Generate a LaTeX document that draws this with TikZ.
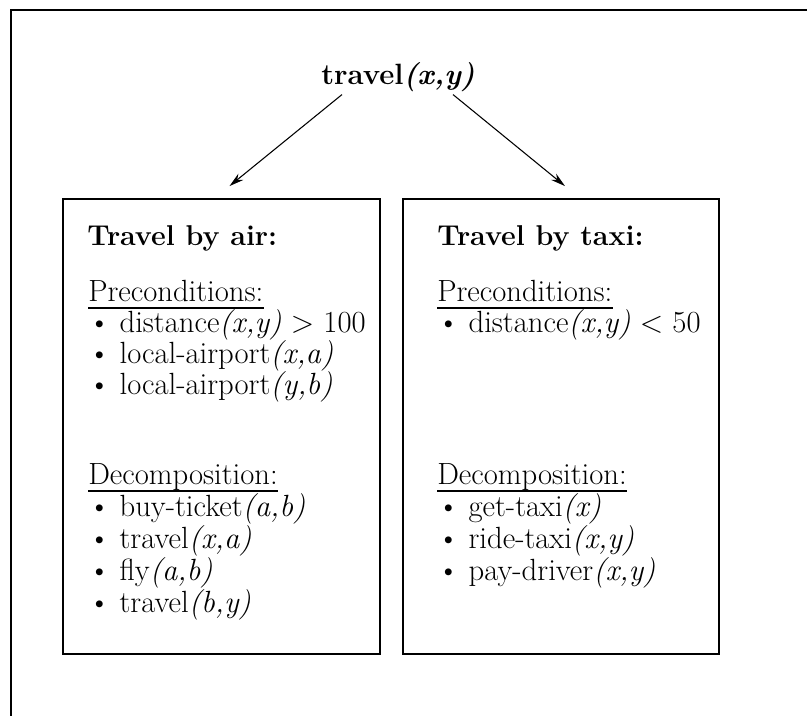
\documentclass[tikz,border=0pt]{standalone}
\usepackage{fontspec}
\usepackage{tikz}
\usetikzlibrary{calc,arrows.meta}
\def\pargs#1{\textit{(#1)}}
\tikzset{
  planbox/.style={draw, line width=1.4pt, inner sep=0pt},
  planhead/.style={anchor=base west, inner sep=0pt, font=\fontsize{21.5}{26}\selectfont\bfseries},
  planitem/.style={anchor=base west, inner sep=0pt, font=\fontsize{23}{27}\selectfont},
  flowarrow/.style={line width=0.8pt, -{Stealth[length=11pt,width=6pt]}},
}
\begin{document}
\begin{tikzpicture}[x=0.75pt, y=-0.75pt]
\useasboundingbox (0,0) rectangle (807,716);
% page frame
\draw[line width=1.6pt] (807,10) -- (11,10) -- (11,716);
\node[planhead, anchor=base, font=\fontsize{22}{26}\selectfont\bfseries] (travel) at (398,85) {travel\pargs{x,y}};
% the two methods
\node[planbox, minimum width=237.75pt, minimum height=341.25pt] (airbox) at (221.5,426.5) {};
\node[planbox, minimum width=237pt, minimum height=341.25pt] (taxibox) at (561,426.5) {};
\draw[flowarrow] ($(travel.south)+(-56,2)$) -- ($(airbox.north)+(8,-12)$);
\draw[flowarrow] ($(travel.south)+(55,2)$) -- ($(taxibox.north)+(4,-12)$);
% by air
\node[planhead] (airhead) at (87,246) {Travel by air:};
\node[planitem] (airpre) at (88,302) {Preconditions:};
\draw[thick] ($(airpre.base west)+(0,6)$) -- ($(airpre.base east)+(0,6)$);
\foreach \txt [count=\i] in {{distance\pargs{x,y} > 100},{local-airport\pargs{x,a}},{local-airport\pargs{y,b}}}
  \node[planitem] (airpre\i) at (88,{302+31*\i}) {\textbullet\ \txt};
\node[planitem] (airdec) at (88,484) {Decomposition:};
\draw[thick] ($(airdec.base west)+(0,7)$) -- ($(airdec.base east)+(0,7)$);
\foreach \txt [count=\i] in {{buy-ticket\pargs{a,b}},{travel\pargs{x,a}},{fly\pargs{a,b}},{travel\pargs{b,y}}}
  \node[planitem] (airdec\i) at (88,{484+32*\i}) {\textbullet\ \txt};
% by taxi
\node[planhead] (taxihead) at (437,246) {Travel by taxi:};
\node[planitem] (taxipre) at (437,302) {Preconditions:};
\draw[thick] ($(taxipre.base west)+(0,6)$) -- ($(taxipre.base east)+(0,6)$);
\node[planitem] (taxipre1) at (437,333) {\textbullet\ distance\pargs{x,y} < 50};
\node[planitem] (taxidec) at (437,484) {Decomposition:};
\draw[thick] ($(taxidec.base west)+(0,7)$) -- ($(taxidec.base east)+(0,7)$);
\foreach \txt [count=\i] in {{get-taxi\pargs{x}},{ride-taxi\pargs{x,y}},{pay-driver\pargs{x,y}}}
  \node[planitem] (taxidec\i) at (437,{484+32*\i}) {\textbullet\ \txt};
\end{tikzpicture}
\end{document}
